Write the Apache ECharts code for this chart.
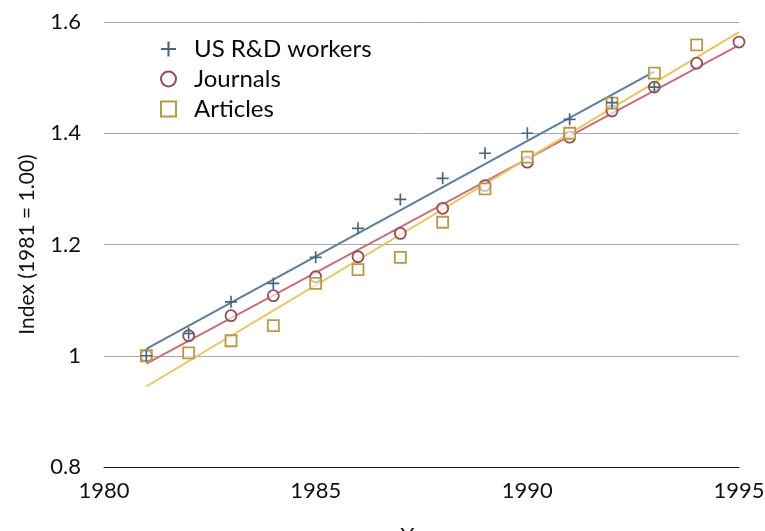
<!DOCTYPE html>
<html>
<head>
<meta charset="utf-8">
<script src="https://cdn.jsdelivr.net/npm/echarts@6/dist/echarts.min.js"></script>
<style>
  html, body { margin: 0; padding: 0; background: #fff; }
  #chart { width: 765px; height: 531px; }
</style>
</head>
<body>
<div id="chart"></div>
<script>
// Growth indices, 1981 = 1.00
const years = [1981, 1982, 1983, 1984, 1985, 1986, 1987, 1988, 1989, 1990, 1991, 1992, 1993, 1994, 1995];
const workers = [1.0, 1.04, 1.097, 1.13, 1.177, 1.229, 1.281, 1.319, 1.364, 1.40, 1.425, 1.455, 1.483];
const journals = [1.0, 1.036, 1.072, 1.108, 1.142, 1.178, 1.22, 1.265, 1.306, 1.348, 1.393, 1.44, 1.483, 1.526, 1.564];
const articles = [1.0, 1.005, 1.027, 1.054, 1.13, 1.155, 1.177, 1.24, 1.30, 1.357, 1.40, 1.454, 1.508, 1.559];

// Year range each fitted trend line is drawn over
const workersSpan = [1981, 1993];
const journalsSpan = [1981, 1995];
const articlesSpan = [1981, 1995];

const seriesNames = ['US R&D workers', 'Journals', 'Articles'];
const yTicks = [0.8, 1.0, 1.2, 1.4, 1.6];
const xTicks = [1980, 1985, 1990, 1995];

function pairs(vals) {
  return vals.map((v, i) => [years[i], v]);
}

// Ordinary least-squares fit, evaluated at the ends of the span
function trend(vals, span) {
  const n = vals.length;
  const xs = years.slice(0, n);
  const mx = xs.reduce((a, b) => a + b, 0) / n;
  const my = vals.reduce((a, b) => a + b, 0) / n;
  let sxy = 0, sxx = 0;
  for (let i = 0; i < n; i++) {
    sxy += (xs[i] - mx) * (vals[i] - my);
    sxx += (xs[i] - mx) * (xs[i] - mx);
  }
  const b = sxy / sxx;
  const a = my - b * mx;
  return span.map(x => [x, a + b * x]);
}

const plus = 'path://M4.3,0h1.4v4.3h4.3v1.4h-4.3v4.3h-1.4v-4.3h-4.3v-1.4h4.3z';
const font = 'Lato, "Open Sans", sans-serif';

const colWorkers = '#5c7e98', colWorkersMark = '#4a6580';
const colJournals = '#c6707a', colJournalsMark = '#8f4f55';
const colArticles = '#e8c462', colArticlesMark = '#b59a48';

const chart = echarts.init(document.getElementById('chart'), null, { renderer: 'canvas' });

chart.setOption({
  animation: false,
  backgroundColor: '#ffffff',
  textStyle: { fontFamily: font },
  grid: { left: 104, right: 26, top: 22, bottom: 64, containLabel: false, outerBoundsMode: 'none' },
  legend: {
    data: seriesNames,
    orient: 'vertical',
    left: 155,
    top: 32,
    itemGap: 6,
    itemWidth: 15,
    itemHeight: 15,
    textStyle: { fontFamily: font, fontSize: 24, color: '#0a0a0a', padding: [0, 0, 0, 13] }
  },
  xAxis: {
    type: 'value',
    min: xTicks[0],
    max: xTicks[xTicks.length - 1],
    interval: 5,
    name: 'Year',
    nameLocation: 'middle',
    nameGap: 58,
    nameTextStyle: { fontFamily: font, fontSize: 22, color: '#111' },
    axisLine: { show: true, lineStyle: { color: '#111', width: 1 } },
    axisTick: { show: false },
    splitLine: { show: false },
    axisLabel: {
      fontFamily: font, fontSize: 22, color: '#111', margin: 13,
      formatter: v => String(v)
    }
  },
  yAxis: {
    type: 'value',
    min: yTicks[0],
    max: yTicks[yTicks.length - 1],
    interval: 0.2,
    name: 'Index (1981 = 1.00)',
    nameLocation: 'middle',
    nameGap: 66,
    nameTextStyle: { fontFamily: font, fontSize: 21, color: '#111' },
    axisLine: { show: false },
    axisTick: { show: false },
    splitLine: { show: true, lineStyle: { color: '#a8a8a8', width: 1 } },
    axisLabel: {
      fontFamily: font, fontSize: 22, color: '#111', margin: 23,
      formatter: v => String(Math.round(v * 10) / 10)
    }
  },
  series: [
    {
      name: 'trend-workers', type: 'line', data: trend(workers, workersSpan),
      symbol: 'none', lineStyle: { color: colWorkers, width: 2 }, z: 2, silent: true
    },
    {
      name: 'trend-journals', type: 'line', data: trend(journals, journalsSpan),
      symbol: 'none', lineStyle: { color: colJournals, width: 2 }, z: 2, silent: true
    },
    {
      name: 'trend-articles', type: 'line', data: trend(articles, articlesSpan),
      symbol: 'none', lineStyle: { color: colArticles, width: 2 }, z: 2, silent: true
    },
    {
      name: seriesNames[0], type: 'scatter', data: pairs(workers),
      symbol: plus, symbolSize: 12,
      itemStyle: { color: colWorkersMark, opacity: 1 }, z: 4
    },
    {
      name: seriesNames[1], type: 'scatter', data: pairs(journals),
      symbol: 'circle', symbolSize: 11,
      itemStyle: { color: 'rgba(255,255,255,0.6)', borderColor: colJournalsMark, borderWidth: 1.8, opacity: 1 }, z: 3
    },
    {
      name: seriesNames[2], type: 'scatter', data: pairs(articles),
      symbol: 'rect', symbolSize: 11,
      itemStyle: { color: 'rgba(255,255,255,0.6)', borderColor: colArticlesMark, borderWidth: 1.8, opacity: 1 }, z: 3
    }
  ]
});
</script>
</body>
</html>
